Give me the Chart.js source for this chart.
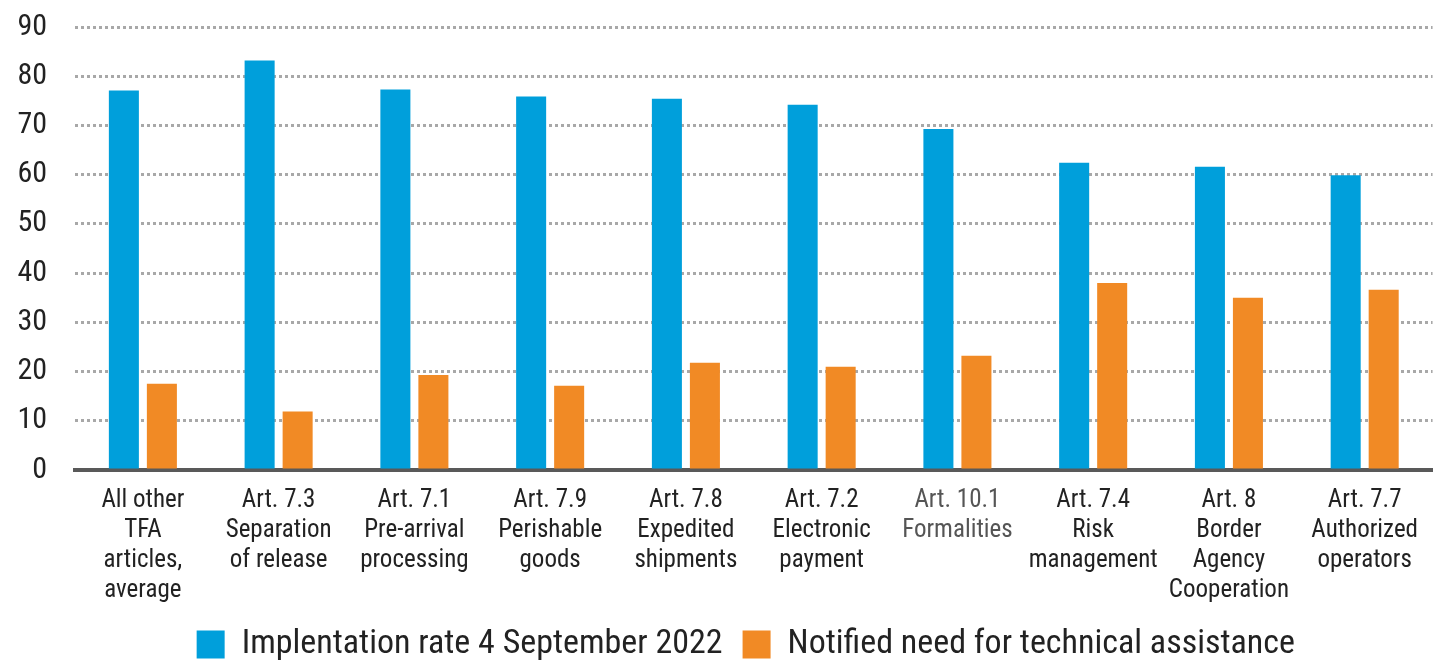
<!DOCTYPE html>
<html>
<head>
<meta charset="utf-8">
<script src="https://cdn.jsdelivr.net/npm/chart.js@4.4.1/dist/chart.umd.min.js"></script>
<style>
  html, body { margin: 0; padding: 0; background: #fff; }
  #wrap { width: 1434px; height: 663px; position: relative; }
</style>
</head>
<body>
<div id="wrap"><canvas id="c" width="1434" height="663"></canvas></div>
<script>
const categories = [
  ["All other", "TFA", "articles,", "average"],
  ["Art. 7.3", "Separation", "of release"],
  ["Art. 7.1", "Pre-arrival", "processing"],
  ["Art. 7.9", "Perishable", "goods"],
  ["Art. 7.8", "Expedited", "shipments"],
  ["Art. 7.2", "Electronic", "payment"],
  ["Art. 10.1", "Formalities"],
  ["Art. 7.4", "Risk", "management"],
  ["Art. 8", "Border", "Agency", "Cooperation"],
  ["Art. 7.7", "Authorized", "operators"]
];
const implementationRate = [77.1, 83.2, 77.3, 75.9, 75.4, 74.2, 69.3, 62.4, 61.6, 59.9];
const technicalAssistance = [17.5, 11.9, 19.3, 17.1, 21.8, 21.0, 23.2, 38.0, 35.0, 36.6];
const yTicks = [0, 10, 20, 30, 40, 50, 60, 70, 80, 90];
const seriesNames = ["Implentation rate 4 September 2022", "Notified need for technical assistance"];

const FONT = "'Liberation Sans Narrow', 'Roboto Condensed', 'DejaVu Sans Condensed', Roboto, sans-serif";
const LEGEND_PAD = 20;

const placeLegend = {
  id: 'placeLegend',
  afterLayout(chart) {
    const lg = chart.legend;
    if (!lg) return;
    lg.top = 627.5 - LEGEND_PAD;
    lg.bottom = chart.height;
    lg.height = lg.bottom - lg.top;
    lg.left -= 8;
    lg.right -= 8;
  }
};

new Chart(document.getElementById('c'), {
  type: 'bar',
  data: {
    labels: categories,
    datasets: [
      { label: seriesNames[0], data: implementationRate, backgroundColor: '#009FDB', borderWidth: 0 },
      { label: seriesNames[1], data: technicalAssistance, backgroundColor: '#F18A25', borderWidth: 0 }
    ]
  },
  plugins: [placeLegend],
  options: {
    responsive: false,
    animation: false,
    devicePixelRatio: 1,
    categoryPercentage: 0.56,
    barPercentage: 0.79,
    layout: { padding: { top: 27, right: 0, bottom: 0, left: 0 } },
    plugins: {
      tooltip: { enabled: false },
      legend: {
        position: 'bottom',
        fullSize: false,
        maxHeight: 40,
        labels: {
          boxWidth: 28,
          boxHeight: 28,
          padding: LEGEND_PAD,
          color: '#222',
          font: { family: FONT, size: 34 }
        }
      }
    },
    scales: {
      x: {
        afterFit: (s) => { s.height = 153; },
        grid: { display: false, drawTicks: false },
        border: { display: true, color: '#595959', width: 4 },
        ticks: {
          autoSkip: false,
          maxRotation: 0,
          minRotation: 0,
          padding: 16,
          color: (ctx) => ctx.index === 6 ? '#555' : '#222',
          font: { family: FONT, size: 25, lineHeight: 1.2 }
        }
      },
      y: {
        min: 0,
        max: 90,
        afterFit: (s) => { s.width = 75; s.paddingTop = 0; s.paddingBottom = 0; },
        afterBuildTicks: (s) => { s.ticks = yTicks.map(v => ({ value: v })); },
        grid: { color: '#a8a8a8', lineWidth: 3, drawTicks: false },
        border: { display: false, dash: [3, 3] },
        ticks: {
          padding: 28,
          color: '#222',
          font: { family: FONT, size: 30 }
        }
      }
    }
  }
});
</script>
</body>
</html>
